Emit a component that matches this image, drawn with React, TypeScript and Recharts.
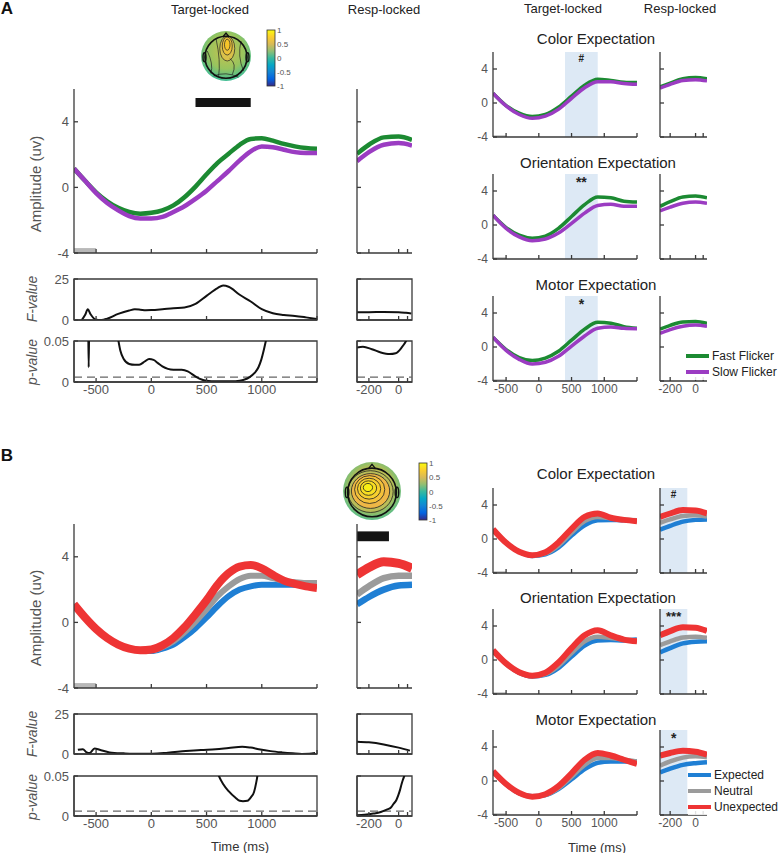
import React from 'react';
import { LineChart, Line, XAxis, YAxis, ReferenceArea, ReferenceLine } from 'recharts';

const FONT = '"Liberation Sans", Arial, Helvetica, sans-serif';
const AXIS = '#3a3a3a';
const TICK_TEXT = '#555';
const GREEN = '#1c8a32';
const PURPLE = '#9b3cc2';
const BLUE = '#1f7fd4';
const GRAY = '#9b9b9b';
const RED = '#ee3434';
const SHADE = '#dde9f5';

// ---------- time bases ----------
const targetTimes = [-700, -600, -500, -400, -300, -200, -100, 0, 100, 200, 300, 400, 500, 600, 700, 800, 900, 1000, 1100, 1200, 1300, 1400, 1500];
const smallTimes = [-700, -500, -300, -100, 100, 300, 500, 700, 900, 1100, 1300, 1500];
const respTimes = [-280, -200, -100, 0, 90];

const targetTicks = [-500, 0, 500, 1000, 1500];
const respTicks = [-200, 0, 60];

// ---------- A : flicker ----------
const fastTargetA = [1.15, 0.4, -0.3, -0.85, -1.25, -1.5, -1.6, -1.55, -1.4, -1.1, -0.6, 0.05, 0.8, 1.5, 2.05, 2.6, 2.95, 3.0, 2.85, 2.65, 2.5, 2.4, 2.35];
const slowTargetA = [1.15, 0.4, -0.35, -0.95, -1.4, -1.75, -1.9, -1.9, -1.8, -1.5, -1.15, -0.7, -0.2, 0.4, 1.0, 1.65, 2.2, 2.5, 2.45, 2.3, 2.15, 2.1, 2.1];
const fastRespA = [2.05, 2.6, 3.05, 3.1, 2.9];
const slowRespA = [1.6, 2.15, 2.6, 2.7, 2.55];

const fTimesA = [-630, -600, -575, -550, -500, -450, -400, -300, -200, -150, -100, -50, 0, 100, 200, 300, 400, 500, 600, 650, 700, 800, 900, 1000, 1100, 1200, 1300, 1400, 1500];
const fValsA = [0, 3, 6.5, 3.5, 0.2, 0, 0.8, 3.7, 5.8, 6.5, 6.3, 6.0, 6.1, 6.6, 7.2, 7.6, 9.8, 14.7, 19.5, 21, 20.3, 15.4, 11.3, 6.6, 4.1, 3.1, 2.5, 1.6, 0.6];
const fRespTimesA = [-280, -200, -100, 0, 50, 85];
const fRespValsA = [4.8, 4.8, 4.9, 4.8, 4.4, 4.0];

const pTimesA = [-570, -567, -564, -450, -300, -280, -250, -200, -150, -110, -60, -20, 20, 60, 100, 150, 200, 275, 330, 365, 410, 455, 500, 545, 650, 725, 800, 845, 890, 935, 970, 995, 1020, 1040];
const pValsA = [0.052, 0.018, 0.052, null, 0.052, 0.038, 0.028, 0.022, 0.021, 0.021, 0.025, 0.028, 0.027, 0.023, 0.019, 0.016, 0.015, 0.015, 0.013, 0.01, 0.006, 0.003, 0.0015, 0.001, 0.0008, 0.0008, 0.0015, 0.003, 0.006, 0.011, 0.018, 0.027, 0.04, 0.052];
const pRespTimesA = [-280, -240, -180, -120, -60, -20, 20, 50, 65];
const pRespValsA = [0.042, 0.043, 0.04, 0.036, 0.034, 0.035, 0.042, 0.05, 0.056];

const colorFastA = [1.15, -0.3, -1.2, -1.6, -1.35, -0.5, 0.8, 2.1, 2.8, 2.65, 2.45, 2.4];
const colorSlowA = [1.15, -0.35, -1.35, -1.8, -1.55, -0.75, 0.55, 1.8, 2.5, 2.5, 2.3, 2.2];
const orientFastA = [1.15, -0.3, -1.2, -1.55, -1.3, -0.4, 1.0, 2.4, 3.3, 3.2, 2.8, 2.7];
const orientSlowA = [1.15, -0.4, -1.4, -1.85, -1.65, -0.95, 0.2, 1.4, 2.3, 2.45, 2.2, 2.2];
const motorFastA = [1.15, -0.3, -1.25, -1.6, -1.3, -0.5, 0.8, 2.1, 2.9, 2.8, 2.4, 2.2];
const motorSlowA = [1.15, -0.4, -1.45, -2.0, -1.8, -1.1, 0.1, 1.3, 2.2, 2.35, 2.2, 2.15];
const colorFastRespA = [1.9, 2.35, 2.85, 3.0, 2.85];
const colorSlowRespA = [1.75, 2.2, 2.65, 2.75, 2.6];
const orientFastRespA = [2.2, 2.75, 3.3, 3.4, 3.2];
const orientSlowRespA = [1.65, 2.1, 2.55, 2.7, 2.55];
const motorFastRespA = [2.1, 2.55, 2.95, 3.0, 2.8];
const motorSlowRespA = [1.6, 2.05, 2.45, 2.6, 2.45];

// ---------- B : expectation ----------
const expTargetB = [1.1, 0.3, -0.4, -0.95, -1.35, -1.6, -1.7, -1.75, -1.6, -1.35, -0.9, -0.35, 0.3, 1.0, 1.6, 2.0, 2.2, 2.3, 2.3, 2.3, 2.3, 2.3, 2.3];
const neuTargetB = [1.1, 0.3, -0.4, -0.95, -1.35, -1.6, -1.7, -1.7, -1.5, -1.15, -0.6, 0.05, 0.8, 1.6, 2.2, 2.65, 2.85, 2.85, 2.7, 2.55, 2.45, 2.4, 2.4];
const unexTargetB = [1.1, 0.3, -0.4, -0.95, -1.35, -1.6, -1.7, -1.65, -1.4, -0.95, -0.3, 0.5, 1.35, 2.3, 3.0, 3.4, 3.5, 3.3, 2.9, 2.55, 2.35, 2.2, 2.1];
const expRespB = [1.1, 1.55, 2.0, 2.25, 2.3];
const neuRespB = [1.7, 2.2, 2.7, 2.85, 2.85];
const unexRespB = [2.9, 3.35, 3.7, 3.6, 3.3];

const fTimesB = [-665, -620, -585, -560, -514, -468, -378, -250, -168, 12, 150, 312, 450, 583, 700, 823, 900, 973, 1080, 1183, 1280, 1363, 1430, 1483];
const fValsB = [2.6, 3.0, 1.0, 0.6, 3.4, 2.6, 1.0, 0.4, 0.2, 0.2, 0.8, 1.8, 2.5, 3.0, 3.8, 4.6, 4.0, 3.0, 1.8, 1.0, 0.4, 0.0, 0.1, 0.6];
const fRespTimesB = [-280, -200, -100, 0, 76];
const fRespValsB = [7.7, 7.3, 6.0, 4.0, 2.1];

const pTimesB = [595, 612, 650, 700, 760, 800, 830, 870, 905, 930, 950, 960, 965];
const pValsB = [0.056, 0.05, 0.04, 0.031, 0.023, 0.019, 0.0185, 0.019, 0.024, 0.03, 0.042, 0.05, 0.056];
const pRespTimesB = [-280, -230, -170, -120, -80, -50, -35, -15, -2, 10, 20, 30, 38, 45];
const pRespValsB = [0.001, 0.0015, 0.003, 0.005, 0.008, 0.011, 0.015, 0.02, 0.026, 0.033, 0.04, 0.046, 0.05, 0.056];

const colorExpB = [1.15, -0.45, -1.5, -2.0, -1.8, -1.0, 0.4, 1.6, 2.2, 2.25, 2.2, 2.2];
const colorNeuB = [1.15, -0.45, -1.5, -1.95, -1.7, -0.75, 0.75, 2.1, 2.6, 2.45, 2.3, 2.2];
const colorUnexB = [1.15, -0.45, -1.5, -1.9, -1.55, -0.4, 1.2, 2.6, 3.0, 2.5, 2.25, 2.1];
const orientExpB = [1.15, -0.45, -1.5, -1.95, -1.75, -0.95, 0.4, 1.7, 2.3, 2.35, 2.3, 2.4];
const orientNeuB = [1.15, -0.45, -1.5, -1.9, -1.65, -0.7, 0.8, 2.2, 2.75, 2.6, 2.4, 2.3];
const orientUnexB = [1.15, -0.4, -1.45, -1.85, -1.5, -0.3, 1.4, 2.9, 3.5, 2.9, 2.4, 2.2];
const motorExpB = [1.15, -0.4, -1.45, -1.8, -1.65, -0.95, 0.2, 1.4, 2.15, 2.3, 2.3, 2.3];
const motorNeuB = [1.15, -0.4, -1.45, -1.85, -1.65, -0.85, 0.5, 1.9, 2.7, 2.7, 2.5, 2.3];
const motorUnexB = [1.15, -0.35, -1.4, -1.85, -1.55, -0.6, 0.9, 2.5, 3.3, 3.0, 2.5, 2.0];
const colorExpRespB = [1.1, 1.55, 2.05, 2.25, 2.3];
const colorNeuRespB = [1.9, 2.3, 2.7, 2.8, 2.65];
const colorUnexRespB = [2.6, 3.0, 3.4, 3.35, 3.0];
const orientExpRespB = [0.9, 1.4, 1.95, 2.15, 2.2];
const orientNeuRespB = [1.75, 2.2, 2.65, 2.75, 2.6];
const orientUnexRespB = [2.9, 3.4, 3.85, 3.8, 3.4];
const motorExpRespB = [1.0, 1.45, 1.9, 2.1, 2.2];
const motorNeuRespB = [1.8, 2.3, 2.75, 2.9, 2.8];
const motorUnexRespB = [3.0, 3.3, 3.55, 3.45, 3.1];

const colorbarLabels = ['1', '0.5', '0', '-0.5', '-1'];

type Pt = { t: number; v: number | null };
type Series = { name: string; color: string; width: number; points: Pt[] };

const pts = (ts: number[], vs: (number | null)[]): Pt[] => ts.map((t, i) => ({ t, v: vs[i] }));

const flicker = (ts: number[], fast: number[], slow: number[], w: number): Series[] => [
    { name: 'Fast Flicker', color: GREEN, width: w, points: pts(ts, fast) },
    { name: 'Slow Flicker', color: PURPLE, width: w, points: pts(ts, slow) },
];
const expectation = (ts: number[], ex: number[], ne: number[], un: number[], w: number, wr: number): Series[] => [
    { name: 'Expected', color: BLUE, width: w, points: pts(ts, ex) },
    { name: 'Neutral', color: GRAY, width: w, points: pts(ts, ne) },
    { name: 'Unexpected', color: RED, width: wr, points: pts(ts, un) },
];
const trace = (ts: number[], vs: (number | null)[]): Series[] => [
    { name: 'stat', color: '#111', width: 2, points: pts(ts, vs) },
];

const PAD_L = 44;
const PAD_R = 8;
const PAD_T = 8;
const PAD_B = 22;

interface PanelProps {
    left: number;
    top: number;
    width: number;
    height: number;
    xDomain: [number, number];
    yDomain: [number, number];
    xTicks: number[];
    yTicks: number[];
    xFormat?: (v: number) => string;
    yFormat?: (v: number) => string;
    fontSize?: number;
    box?: boolean;
    series: Series[];
    children?: React.ReactNode;
}

const hide = () => '';

function Panel({
    left,
    top,
    width,
    height,
    xDomain,
    yDomain,
    xTicks,
    yTicks,
    xFormat = hide,
    yFormat = hide,
    fontSize = 13,
    box = false,
    series,
    children,
}: PanelProps) {
    const tickStyle = { fill: TICK_TEXT, fontSize, fontFamily: FONT };
    return (
        <div style={{ position: 'absolute', left: left - PAD_L, top: top - PAD_T }}>
            <LineChart
                width={width + PAD_L + PAD_R}
                height={height + PAD_T + PAD_B}
                margin={{ top: PAD_T, right: PAD_R, bottom: 0, left: 0 }}
            >
                <XAxis
                    type="number"
                    dataKey="t"
                    domain={xDomain}
                    ticks={xTicks}
                    interval={0}
                    allowDataOverflow
                    height={PAD_B}
                    tickSize={-4}
                    tickMargin={7}
                    stroke={AXIS}
                    strokeWidth={1.3}
                    tick={tickStyle}
                    tickFormatter={xFormat}
                />
                <YAxis
                    type="number"
                    domain={yDomain}
                    ticks={yTicks}
                    interval={0}
                    allowDataOverflow
                    width={PAD_L}
                    tickSize={-4}
                    tickMargin={9}
                    stroke={AXIS}
                    strokeWidth={1.3}
                    tick={tickStyle}
                    tickFormatter={yFormat}
                />
                {children}
                {box && (
                    <ReferenceArea
                        x1={xDomain[0]}
                        x2={xDomain[1]}
                        y1={yDomain[0]}
                        y2={yDomain[1]}
                        fill="none"
                        stroke={AXIS}
                        strokeWidth={1.3}
                    />
                )}
                {series.map((s) => (
                    <Line
                        key={s.name}
                        data={s.points}
                        dataKey="v"
                        name={s.name}
                        type="monotone"
                        stroke={s.color}
                        strokeWidth={s.width}
                        dot={false}
                        activeDot={false}
                        connectNulls={false}
                        isAnimationActive={false}
                    />
                ))}
            </LineChart>
        </div>
    );
}

const T_DOMAIN: [number, number] = [-700, 1500];
const R_DOMAIN: [number, number] = [-280, 90];
const AMP: [number, number] = [-4, 6];
const F_DOM: [number, number] = [0, 25];
const P_DOM: [number, number] = [0, 0.05];

const showAmp = (v: number) => String(v);
const showTarget = (v: number) => (v === 1500 ? '' : String(v));
const showResp = (v: number) => (v === 60 ? '' : String(v));

function Txt({ x, y, children, size = 13, color = '#222', weight = 400, italic = false, rotate = false }: any) {
    return (
        <div
            style={{
                position: 'absolute',
                left: x,
                top: y,
                transform: `translate(-50%, -50%)${rotate ? ' rotate(-90deg)' : ''}`,
                fontFamily: FONT,
                fontSize: size,
                color,
                fontWeight: weight,
                fontStyle: italic ? 'italic' : 'normal',
                whiteSpace: 'nowrap',
                lineHeight: 1,
            }}
        >
            {children}
        </div>
    );
}

function Colorbar({ x, y, h, id }: { x: number; y: number; h: number; id: string }) {
    const pad = 5;
    return (
        <svg style={{ position: 'absolute', left: x, top: y - pad }} width={34} height={h + pad * 2 + 2}>
            <defs>
                <linearGradient id={id} x1="0" y1="1" x2="0" y2="0">
                    <stop offset="0" stopColor="#352a87" />
                    <stop offset="0.125" stopColor="#0363e1" />
                    <stop offset="0.25" stopColor="#1485d4" />
                    <stop offset="0.375" stopColor="#06a7c6" />
                    <stop offset="0.5" stopColor="#38b99e" />
                    <stop offset="0.625" stopColor="#92bf73" />
                    <stop offset="0.75" stopColor="#d9ba56" />
                    <stop offset="0.875" stopColor="#fcce2e" />
                    <stop offset="1" stopColor="#f9fb0e" />
                </linearGradient>
            </defs>
            <rect x={1} y={pad} width={8} height={h} fill={`url(#${id})`} stroke="#333" strokeWidth={0.8} />
            {colorbarLabels.map((l, i) => (
                <text
                    key={l}
                    x={11}
                    y={pad + (i * h) / 4 + 3}
                    fontSize={8}
                    fontFamily={FONT}
                    fill="#555"
                >
                    {l}
                </text>
            ))}
        </svg>
    );
}

function Topomap({ cx, cy, r, variant }: { cx: number; cy: number; r: number; variant: 'A' | 'B' }) {
    const s = r * 2 + 4;
    const c = r + 2;
    const gid = `topo${variant}`;
    return (
        <svg style={{ position: 'absolute', left: cx - c, top: cy - c }} width={s} height={s}>
            <defs>
                <radialGradient id={gid} cx="50%" cy={variant === 'A' ? '40%' : '45%'} r="60%">
                    <stop offset="0" stopColor={variant === 'A' ? '#c9c24e' : '#e8b848'} />
                    <stop offset="0.6" stopColor={variant === 'A' ? '#98c45e' : '#b5be55'} />
                    <stop offset="1" stopColor="#40bd96" />
                </radialGradient>
            </defs>
            <circle cx={c} cy={c} r={r} fill={`url(#${gid})`} />
            {variant === 'A' ? (
                <g fill="none" stroke="#222" strokeWidth={0.7}>
                    <ellipse cx={c + r * 0.05} cy={c - r * 0.3} rx={r * 0.3} ry={r * 0.5} fill="#d9c14a" />
                    <ellipse cx={c + r * 0.05} cy={c - r * 0.4} rx={r * 0.2} ry={r * 0.36} fill="#ecc23a" />
                    <ellipse cx={c + r * 0.05} cy={c - r * 0.45} rx={r * 0.11} ry={r * 0.22} fill="#f6c52a" />
                    <path d={`M ${c + r * 0.15} ${c + r * 0.1} Q ${c + r * 0.45} ${c + r * 0.3} ${c + r * 0.25} ${c + r * 0.75}`} />
                    <path d={`M ${c - r * 0.75} ${c - r * 0.2} Q ${c - r * 0.5} ${c + r * 0.3} ${c - r * 0.6} ${c + r * 0.7}`} />
                    <path d={`M ${c - r * 0.4} ${c - r * 0.7} Q ${c - r * 0.2} ${c + r * 0.2} ${c - r * 0.3} ${c + r * 0.85}`} />
                    <path d={`M ${c + r * 0.6} ${c - r * 0.6} Q ${c + r * 0.45} ${c} ${c + r * 0.7} ${c + r * 0.6}`} />
                    <path d={`M ${c - r * 0.5} ${c + r * 0.8} Q ${c} ${c + r * 0.6} ${c + r * 0.5} ${c + r * 0.85}`} />
                </g>
            ) : (
                <g stroke="#222" strokeWidth={0.8}>
                    <ellipse cx={c - r * 0.05} cy={c + r * 0.02} rx={r * 0.78} ry={r * 0.72} fill="#b9bd58" />
                    <ellipse cx={c - r * 0.05} cy={c} rx={r * 0.66} ry={r * 0.6} fill="#eeb746" />
                    <ellipse cx={c - r * 0.08} cy={c - r * 0.05} rx={r * 0.52} ry={r * 0.48} fill="#f4c23a" />
                    <ellipse cx={c - r * 0.1} cy={c - r * 0.08} rx={r * 0.4} ry={r * 0.36} fill="#f6d02e" />
                    <ellipse cx={c - r * 0.12} cy={c - r * 0.1} rx={r * 0.28} ry={r * 0.25} fill="#f7de22" />
                    <ellipse cx={c - r * 0.14} cy={c - r * 0.12} rx={r * 0.16} ry={r * 0.14} fill="#f8ef14" />
                </g>
            )}
            <circle cx={c} cy={c + r * 0.05} r={r * 0.84} fill="none" stroke="#111" strokeWidth={1.6} />
            <path
                d={`M ${c - r * 0.12} ${c - r * 0.77} L ${c} ${c - r * 0.92} L ${c + r * 0.12} ${c - r * 0.77}`}
                fill="none"
                stroke="#111"
                strokeWidth={1.4}
            />
            <ellipse cx={c - r * 0.86} cy={c + r * 0.05} rx={r * 0.06} ry={r * 0.18} fill="none" stroke="#111" strokeWidth={1.4} />
            <ellipse cx={c + r * 0.86} cy={c + r * 0.05} rx={r * 0.06} ry={r * 0.18} fill="none" stroke="#111" strokeWidth={1.4} />
        </svg>
    );
}

function LegendBox({ x, y, items, gap }: { x: number; y: number; items: { name: string; color: string }[]; gap: number }) {
    return (
        <>
            {items.map((it, i) => (
                <div
                    key={it.name}
                    style={{
                        position: 'absolute',
                        left: x,
                        top: y + i * gap - 8,
                        height: 16,
                        display: 'flex',
                        alignItems: 'center',
                        fontFamily: FONT,
                        fontSize: 12,
                        color: '#222',
                        background: 'rgba(255,255,255,0.85)',
                        whiteSpace: 'nowrap',
                    }}
                >
                    <span style={{ display: 'inline-block', width: 23, height: 4, background: it.color, marginRight: 3 }} />
                    {it.name}
                </div>
            ))}
        </>
    );
}

const baseline = (y2: number) => (
    <ReferenceArea x1={-700} x2={-500} y1={-4} y2={y2} fill="#b8b8b8" fillOpacity={1} stroke="none" />
);

const shade = (x1: number, x2: number, mark: string, size: number) => (
    <ReferenceArea
        x1={x1}
        x2={x2}
        y1={-4}
        y2={6}
        fill={SHADE}
        fillOpacity={1}
        stroke="none"
        label={{ value: mark, position: 'insideTop', offset: 3, fill: '#222', fontSize: size, fontFamily: FONT, fontWeight: 700 }}
    />
);

function SmallPair({
    top,
    target,
    resp,
    shadeTarget,
    shadeResp,
    showX,
}: {
    top: number;
    target: Series[];
    resp: Series[];
    shadeTarget?: React.ReactNode;
    shadeResp?: React.ReactNode;
    showX: boolean;
}) {
    return (
        <>
            <Panel
                left={493}
                top={top}
                width={144}
                height={85}
                xDomain={T_DOMAIN}
                yDomain={AMP}
                xTicks={targetTicks}
                yTicks={[-4, 0, 4]}
                xFormat={showX ? showTarget : hide}
                yFormat={showAmp}
                fontSize={12}
                series={target}
            >
                {shadeTarget}
                {baseline(-3.8)}
            </Panel>
            <Panel
                left={660}
                top={top}
                width={47}
                height={85}
                xDomain={R_DOMAIN}
                yDomain={AMP}
                xTicks={respTicks}
                yTicks={[-4, 0, 4]}
                xFormat={showX ? showResp : hide}
                fontSize={12}
                series={resp}
            >
                {shadeResp}
            </Panel>
        </>
    );
}

export default function App() {
    return (
        <div style={{ position: 'absolute', left: 0, top: 0, width: 783, height: 853, background: '#fff', overflow: 'hidden' }}>
            {/* ---------------- A ---------------- */}
            <Txt x={7} y={8} size={17} weight={700} color="#111">A</Txt>
            <Txt x={210} y={9}>Target-locked</Txt>
            <Txt x={384} y={9}>Resp-locked</Txt>
            <Txt x={563} y={8}>Target-locked</Txt>
            <Txt x={680} y={8}>Resp-locked</Txt>

            <Topomap cx={226} cy={56} r={25} variant="A" />
            <Colorbar x={266} y={30} h={56} id="cbA" />

            <Txt x={35} y={184} size={15} color="#555" rotate>Amplitude (uv)</Txt>
            <Panel
                left={74}
                top={89}
                width={243}
                height={164}
                xDomain={T_DOMAIN}
                yDomain={AMP}
                xTicks={targetTicks}
                yTicks={[-4, 0, 4]}
                yFormat={showAmp}
                series={flicker(targetTimes, fastTargetA, slowTargetA, 4.5)}
            >
                <ReferenceArea x1={400} x2={900} y1={4.9} y2={5.45} fill="#141414" fillOpacity={1} stroke="none" />
                {baseline(-3.7)}
            </Panel>
            <Panel
                left={357}
                top={89}
                width={55}
                height={164}
                xDomain={R_DOMAIN}
                yDomain={AMP}
                xTicks={respTicks}
                yTicks={[-4, 0, 4]}
                series={flicker(respTimes, fastRespA, slowRespA, 4.5)}
            />

            <Txt x={32} y={299} size={14} color="#555" italic rotate>F-value</Txt>
            <Panel left={74} top={279} width={243} height={41} xDomain={T_DOMAIN} yDomain={F_DOM} xTicks={targetTicks} yTicks={[0, 25]} yFormat={showAmp} box series={trace(fTimesA, fValsA)} />
            <Panel left={357} top={279} width={55} height={41} xDomain={R_DOMAIN} yDomain={F_DOM} xTicks={respTicks} yTicks={[0, 25]} box series={trace(fRespTimesA, fRespValsA)} />

            <Txt x={32} y={362} size={14} color="#555" italic rotate>p-value</Txt>
            <Panel left={74} top={341} width={243} height={41} xDomain={T_DOMAIN} yDomain={P_DOM} xTicks={targetTicks} yTicks={[0, 0.05]} xFormat={showTarget} yFormat={showAmp} box series={trace(pTimesA, pValsA)}>
                <ReferenceLine y={0.006} stroke="#666" strokeWidth={1.3} strokeDasharray="8 5" />
            </Panel>
            <Panel left={357} top={341} width={55} height={41} xDomain={R_DOMAIN} yDomain={P_DOM} xTicks={respTicks} yTicks={[0, 0.05]} xFormat={showResp} box series={trace(pRespTimesA, pRespValsA)}>
                <ReferenceLine y={0.006} stroke="#666" strokeWidth={1.3} strokeDasharray="8 5" />
            </Panel>

            <Txt x={596} y={38} size={15}>Color Expectation</Txt>
            <SmallPair
                top={52}
                target={flicker(smallTimes, colorFastA, colorSlowA, 3.5)}
                resp={flicker(respTimes, colorFastRespA, colorSlowRespA, 3.5)}
                shadeTarget={shade(400, 900, '#', 10)}
                showX={false}
            />
            <Txt x={598} y={162} size={15}>Orientation Expectation</Txt>
            <SmallPair
                top={174}
                target={flicker(smallTimes, orientFastA, orientSlowA, 3.5)}
                resp={flicker(respTimes, orientFastRespA, orientSlowRespA, 3.5)}
                shadeTarget={shade(400, 900, '**', 14)}
                showX={false}
            />
            <Txt x={596} y={284} size={15}>Motor Expectation</Txt>
            <SmallPair
                top={296}
                target={flicker(smallTimes, motorFastA, motorSlowA, 3.5)}
                resp={flicker(respTimes, motorFastRespA, motorSlowRespA, 3.5)}
                shadeTarget={shade(400, 900, '*', 14)}
                showX
            />
            <LegendBox
                x={686}
                y={356}
                gap={16}
                items={[
                    { name: 'Fast Flicker', color: GREEN },
                    { name: 'Slow Flicker', color: PURPLE },
                ]}
            />

            {/* ---------------- B ---------------- */}
            <Txt x={7} y={455} size={17} weight={700} color="#111">B</Txt>
            <Topomap cx={372} cy={491} r={29} variant="B" />
            <Colorbar x={418} y={463} h={57} id="cbB" />

            <Txt x={35} y={618} size={15} color="#555" rotate>Amplitude (uv)</Txt>
            <Panel
                left={74}
                top={524}
                width={243}
                height={164}
                xDomain={T_DOMAIN}
                yDomain={AMP}
                xTicks={targetTicks}
                yTicks={[-4, 0, 4]}
                yFormat={showAmp}
                series={expectation(targetTimes, expTargetB, neuTargetB, unexTargetB, 6, 8)}
            >
                {baseline(-3.7)}
            </Panel>
            <Panel
                left={357}
                top={524}
                width={55}
                height={164}
                xDomain={R_DOMAIN}
                yDomain={AMP}
                xTicks={respTicks}
                yTicks={[-4, 0, 4]}
                series={expectation(respTimes, expRespB, neuRespB, unexRespB, 6.5, 9)}
            >
                <ReferenceArea x1={-280} x2={-65} y1={4.95} y2={5.55} fill="#141414" fillOpacity={1} stroke="none" />
            </Panel>

            <Txt x={32} y={734} size={14} color="#555" italic rotate>F-value</Txt>
            <Panel left={74} top={714} width={243} height={40} xDomain={T_DOMAIN} yDomain={F_DOM} xTicks={targetTicks} yTicks={[0, 25]} yFormat={showAmp} box series={trace(fTimesB, fValsB)} />
            <Panel left={357} top={714} width={55} height={40} xDomain={R_DOMAIN} yDomain={F_DOM} xTicks={respTicks} yTicks={[0, 25]} box series={trace(fRespTimesB, fRespValsB)} />

            <Txt x={32} y={797} size={14} color="#555" italic rotate>p-value</Txt>
            <Panel left={74} top={776} width={243} height={40} xDomain={T_DOMAIN} yDomain={P_DOM} xTicks={targetTicks} yTicks={[0, 0.05]} xFormat={showTarget} yFormat={showAmp} box series={trace(pTimesB, pValsB)}>
                <ReferenceLine y={0.006} stroke="#666" strokeWidth={1.3} strokeDasharray="8 5" />
            </Panel>
            <Panel left={357} top={776} width={55} height={40} xDomain={R_DOMAIN} yDomain={P_DOM} xTicks={respTicks} yTicks={[0, 0.05]} xFormat={showResp} box series={trace(pRespTimesB, pRespValsB)}>
                <ReferenceLine y={0.006} stroke="#666" strokeWidth={1.3} strokeDasharray="8 5" />
            </Panel>
            <Txt x={240} y={846} size={13} color="#333">Time (ms)</Txt>

            <Txt x={596} y={473} size={15}>Color Expectation</Txt>
            <SmallPair
                top={488}
                target={expectation(smallTimes, colorExpB, colorNeuB, colorUnexB, 4.5, 6)}
                resp={expectation(respTimes, colorExpRespB, colorNeuRespB, colorUnexRespB, 4.5, 6)}
                shadeResp={shade(-280, -65, '#', 10)}
                showX={false}
            />
            <Txt x={598} y={597} size={15}>Orientation Expectation</Txt>
            <SmallPair
                top={609}
                target={expectation(smallTimes, orientExpB, orientNeuB, orientUnexB, 4.5, 6)}
                resp={expectation(respTimes, orientExpRespB, orientNeuRespB, orientUnexRespB, 4.5, 6)}
                shadeResp={shade(-280, -65, '***', 13)}
                showX={false}
            />
            <Txt x={596} y={719} size={15}>Motor Expectation</Txt>
            <SmallPair
                top={730}
                target={expectation(smallTimes, motorExpB, motorNeuB, motorUnexB, 4.5, 6)}
                resp={expectation(respTimes, motorExpRespB, motorNeuRespB, motorUnexRespB, 4.5, 6)}
                shadeResp={shade(-280, -65, '*', 14)}
                showX
            />
            <Txt x={597} y={847} size={13} color="#333">Time (ms)</Txt>
            <LegendBox
                x={688}
                y={775}
                gap={16}
                items={[
                    { name: 'Expected', color: BLUE },
                    { name: 'Neutral', color: GRAY },
                    { name: 'Unexpected', color: RED },
                ]}
            />
        </div>
    );
}
